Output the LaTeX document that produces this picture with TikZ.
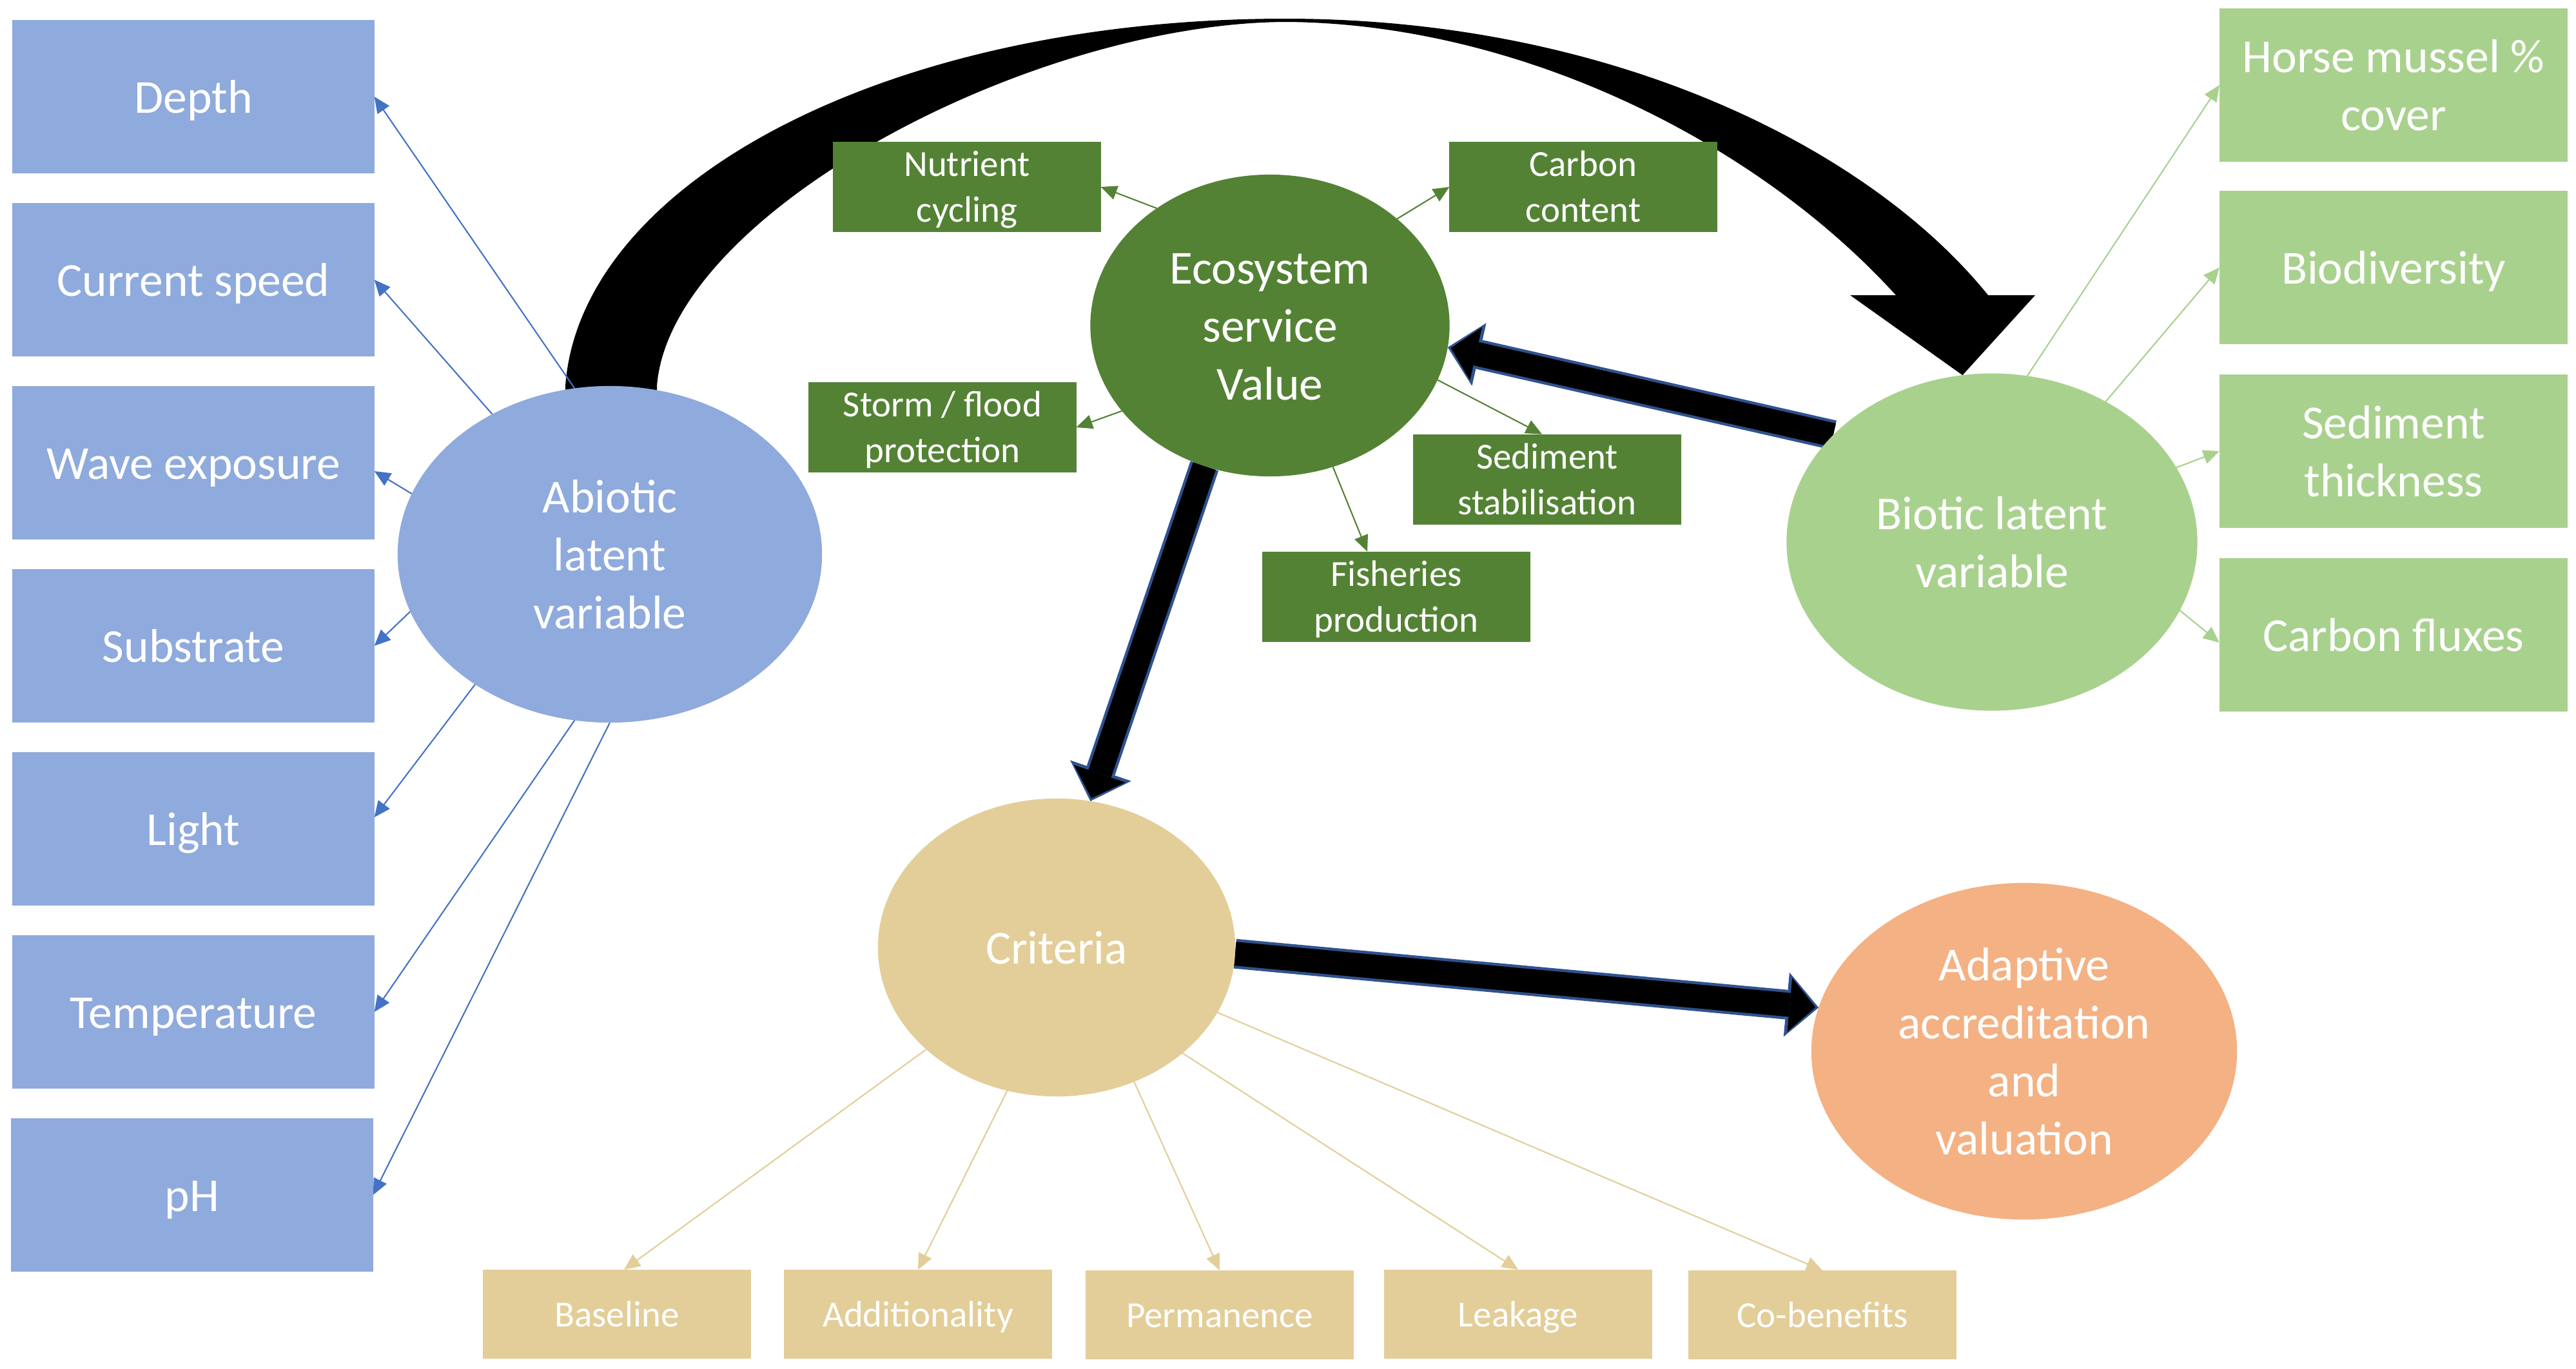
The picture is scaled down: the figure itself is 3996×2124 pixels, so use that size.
\documentclass[tikz,border=0pt]{standalone}
\usepackage{fontspec}
\setmainfont{Carlito}
\usetikzlibrary{shapes.geometric,arrows.meta,calc}
\definecolor{cBlue}{HTML}{8FAADC}
\definecolor{cBlueLine}{HTML}{4472C4}
\definecolor{cDGreen}{HTML}{548235}
\definecolor{cLGreen}{HTML}{A9D18E}
\definecolor{cTan}{HTML}{E3CE99}
\definecolor{cOrange}{HTML}{F4B183}
\definecolor{cOutline}{HTML}{2F528F}
\pgfdeclarelayer{back}
\pgfdeclarelayer{bg}
\pgfsetlayers{back,bg,main}
\newcommand\bigtxt{\fontsize{20.9pt}{25.6pt}\selectfont}
\newcommand\smalltxt{\fontsize{16.2pt}{20.2pt}\selectfont}
\begin{document}
\begin{tikzpicture}[x=0.01cm,y=-0.01cm,
 base/.style={inner sep=0pt, outer sep=0pt, text=white, align=center},
 bigone/.style={text height=19.9pt, text depth=5.6pt},
 bigtwo/.style={text height=45.5pt, text depth=5.6pt},
 bigthree/.style={text height=71.1pt, text depth=5.6pt},
 bigfour/.style={text height=96.7pt, text depth=5.6pt},
 smallone/.style={text height=15.4pt, text depth=4.4pt},
 smalltwo/.style={text height=35.6pt, text depth=4.4pt},
 bigbox/.style={base, rectangle, minimum width=5.61cm, minimum height=2.37cm, font=\bigtxt},
 bluebox/.style={bigbox, fill=cBlue, bigone},
 greenbox/.style={bigbox, fill=cLGreen, minimum width=5.40cm, bigone},
 smallbox/.style={base, rectangle, minimum width=4.15cm, minimum height=1.37cm, font=\smalltxt},
 esbox/.style={smallbox, fill=cDGreen, smalltwo},
 tanbox/.style={smallbox, fill=cTan, minimum height=1.38cm, smallone},
 oval/.style={base, ellipse, font=\bigtxt},
 thinarrow/.style={line width=0.6pt, -{Triangle[length=0.25cm,width=0.22cm]}},
 fatouter/.style={line width=0.46cm, draw=cOutline, -{Triangle[length=0.50cm,width=1.0cm,line width=0pt]}},
 fatinner/.style={line width=0.37cm, draw=black, shorten >=0.05cm, -{Triangle[length=0.40cm,width=0.84cm,line width=0pt]}},
]
\begin{pgfonlayer}{back}
\fill[white] (0,0) rectangle (3996,2124);
\end{pgfonlayer}
\useasboundingbox (0,0) rectangle (3996,2124);

% left abiotic indicators
\node[bluebox] (depth) at (300,150) {Depth};
\node[bluebox] (curr) at (300,434) {Current speed};
\node[bluebox] (wave) at (300,718) {Wave exposure};
\node[bluebox] (subs) at (300,1002) {Substrate};
\node[bluebox] (light) at (300,1286) {Light};
\node[bluebox] (temp) at (300,1570) {Temperature};
\node[bluebox] (ph) at (298,1854) {pH};

% right biotic indicators
\node[greenbox, bigtwo] (horse) at (3713,132) {Horse mussel \%\\cover};
\node[greenbox] (biod) at (3713,415) {Biodiversity};
\node[greenbox, bigtwo] (thick) at (3713,700) {Sediment\\thickness};
\node[greenbox] (flux) at (3713,985) {Carbon fluxes};

% ecosystem services
\node[esbox] (nutr) at (1500,290) {Nutrient\\cycling};
\node[esbox] (carb) at (2456,290) {Carbon\\content};
\node[esbox] (storm) at (1462,663) {Storm / flood\\protection};
\node[esbox] (sedst) at (2400,744) {Sediment\\stabilisation};
\node[esbox] (fish) at (2166,926) {Fisheries\\production};

% criteria
\node[tanbox] (basel) at (957,2039) {Baseline};
\node[tanbox] (addit) at (1424,2039) {Additionality};
\node[tanbox] (perm) at (1892,2040) {Permanence};
\node[tanbox] (leak) at (2355,2039) {Leakage};
\node[tanbox] (cob) at (2827,2040) {Co-benefits};

% ellipses
\node[oval, bigthree, fill=cBlue, minimum width=6.58cm, minimum height=5.22cm] (abio) at (946,860) {Abiotic\\latent\\variable};
\node[oval, bigthree, fill=cDGreen, minimum width=5.57cm, minimum height=4.68cm] (esv) at (1970,505) {Ecosystem\\service\\Value};
\node[oval, bigtwo, fill=cLGreen, minimum width=6.37cm, minimum height=5.23cm] (bio) at (3090,841) {Biotic latent\\variable};
\node[oval, bigone, fill=cTan, minimum width=5.54cm, minimum height=4.62cm] (crit) at (1639,1470) {Criteria};
\node[oval, bigfour, fill=cOrange, minimum width=6.60cm, minimum height=5.22cm] (adapt) at (3140,1631) {Adaptive\\accreditation\\and\\valuation};

\begin{pgfonlayer}{bg}
% curved arrow abiotic -> biotic
\fill[black] ($(abio.north)+(-68,40)$) -- ($(abio.north)+(-69,0)$)
  .. controls (900,283) and (1377,29) .. (1994,29)
  .. controls (2500,29) and (2900,230) .. (3084,458)
  -- (3157,458) -- (bio.100) -- (2870,458) -- (2941,458)
  .. controls (2720,215) and (2350,36) .. (1994,34)
  .. controls (1600,36) and (1040,330) .. ($(abio.north)+(73,0)$)
  -- ($(abio.north)+(73,40)$) -- cycle;

% abiotic thin arrows
\draw[thinarrow, cBlueLine] (abio.102) -- (depth.east);
\draw[thinarrow, cBlueLine] (abio.130) -- (curr.east);
\draw[thinarrow, cBlueLine] (abio.163) -- ($(wave.east)+(0,13)$);
\draw[thinarrow, cBlueLine] (abio.196) -- (subs.east);
\draw[thinarrow, cBlueLine] (abio.224) -- ($(light.east)+(0,-18)$);
\draw[thinarrow, cBlueLine] (abio.258) -- (temp.east);
\draw[thinarrow, cBlueLine] (abio.270) -- (ph.east);

% ecosystem service thin arrows
\draw[thinarrow, cDGreen] (esv.134) -- (nutr.east);
\draw[thinarrow, cDGreen] (esv.40) -- (carb.west);
\draw[thinarrow, cDGreen] (esv.210) -- (storm.east);
\draw[thinarrow, cDGreen] (esv.342) -- ($(sedst.north)+(-8,0)$);
\draw[thinarrow, cDGreen] (esv.294) -- ($(fish.north)+(-45,0)$);

% biotic thin arrows
\draw[thinarrow, cLGreen] (bio.78) -- (horse.west);
\draw[thinarrow, cLGreen] (bio.51) -- (biod.west);
\draw[thinarrow, cLGreen] (bio.22) -- (thick.west);
\draw[thinarrow, cLGreen] (bio.340) -- ($(flux.west)+(0,12)$);

% criteria thin arrows
\draw[thinarrow, cTan] (crit.218) -- ($(basel.north)+(11,0)$);
\draw[thinarrow, cTan] (crit.251) -- (addit.north);
\draw[thinarrow, cTan] (crit.300) -- (perm.north);
\draw[thinarrow, cTan] (crit.320) -- (leak.north);
\draw[thinarrow, cTan] (crit.338) -- (cob.north);

% fat arrows
\draw[fatouter] (bio.146) -- (esv.353);
\draw[fatinner] (bio.146) -- (esv.353);
\draw[fatouter] (esv.245) -- (crit.77);
\draw[fatinner] (esv.245) -- (crit.77);
\draw[fatouter] (crit.358) -- (adapt.168);
\draw[fatinner] (crit.358) -- (adapt.168);
\end{pgfonlayer}
\end{tikzpicture}
\end{document}
